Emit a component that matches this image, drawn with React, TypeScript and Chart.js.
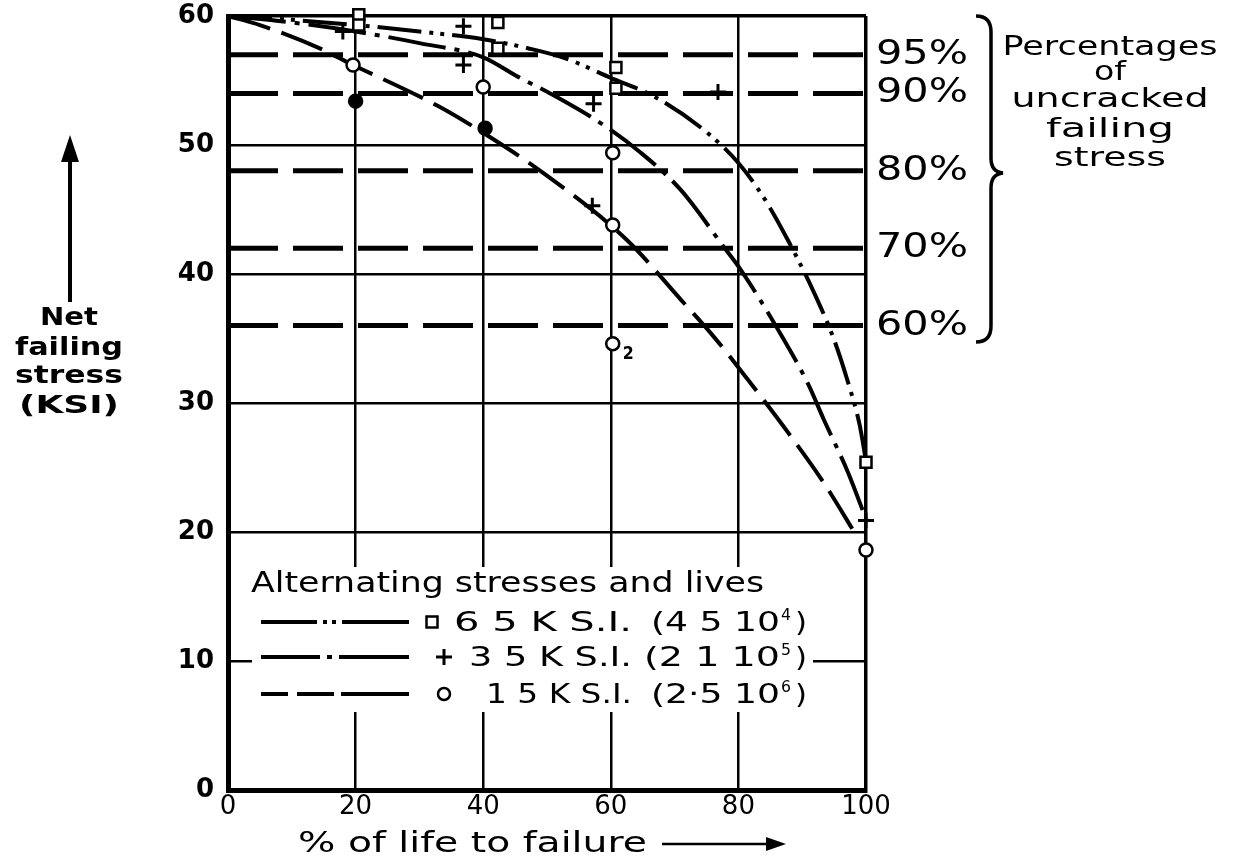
import React, { useEffect, useRef } from "react";
import { Chart, registerables } from "chart.js";

Chart.register(...registerables);

const FONT = '"DejaVu Sans", sans-serif';

// Axis ticks
const X_TICKS = [0, 20, 40, 60, 80, 100];
const Y_TICKS = [0, 10, 20, 30, 40, 50, 60];

// Fitted curves: % of life to failure (x) against net failing stress in KSI (y)
const CURVE_65_X = [0, 10, 20, 30, 40, 47, 53, 60, 67, 75, 80, 84, 88, 92, 95, 97, 99, 100];
const CURVE_65_Y = [60, 59.7, 59.3, 58.8, 58.2, 57.5, 56.7, 55.2, 53.7, 51.0, 48.6, 45.9, 42.4, 38.4, 34.9, 31.9, 28.3, 25.5];

const CURVE_35_X = [0, 10, 20, 30, 40, 45.4, 50.5, 58.4, 64.7, 71, 77.7, 80.4, 86.2, 90.9, 93.4, 97.2, 100];
const CURVE_35_Y = [60, 59.5, 58.8, 57.9, 56.8, 55.3, 54.0, 51.7, 49.4, 46.5, 42.1, 40.3, 35.7, 31.5, 28.7, 24.6, 21.0];

const CURVE_15_X = [0, 5, 14.8, 18.8, 33, 41.1, 49.5, 62.6, 71, 75.7, 81.5, 87.8, 93.4, 98.4];
const CURVE_15_Y = [60, 59.3, 57.4, 56.4, 53.0, 50.6, 47.8, 42.6, 38.0, 35.4, 31.8, 27.7, 23.8, 19.8];

// Test results for each alternating stress
const TEST_65_X = [20.5, 20.5, 42.3, 42.3, 60.8, 60.8, 100];
const TEST_65_Y = [60.1, 59.3, 59.5, 57.5, 56.0, 54.4, 25.4];

const TEST_35_X = [18, 36.9, 36.9, 57.3, 57.1, 76.8, 100];
const TEST_35_Y = [58.8, 59.2, 56.2, 53.2, 45.3, 54.1, 20.9];

const TEST_15_X = [19.6, 20, 40, 40.3, 60.3, 60.3, 60.3, 100];
const TEST_15_Y = [56.2, 53.4, 54.5, 51.3, 49.4, 43.8, 34.6, 18.6];
const TEST_15_FILLED = [false, true, false, true, false, false, false, false];
const TEST_15_COUNT = ["", "", "", "", "", "", "2", ""];

// Residual strength levels as a percentage of the uncracked failing stress
const UNCRACKED_STRESS = 60;
const PERCENT_LEVELS = [95, 90, 80, 70, 60];

// Text
const LEGEND_TITLE = "Alternating stresses and lives";
const LEGEND_STRESS = ["6 5 K S.I.", "3 5 K S.I.", "1 5 K S.I."];
const LEGEND_LIFE = ["4 5", "2 1", "2\u00b75"];
const LEGEND_LIFE_EXP = ["4", "5", "6"];
const PERCENT_NOTE = ["Percentages", "of", "uncracked", "failing", "stress"];
const Y_TITLE = ["Net", "failing", "stress", "(KSI)"];
const X_TITLE = "% of life to failure";

// Line patterns on the plot
const DASH_65 = [44, 8, 4, 7, 4, 8];
const DASH_35 = [58, 9, 5, 9];
const DASH_15 = [44, 12];
const DASH_LEVEL = [50, 15];

// Line patterns in the key samples
const KEY_DASH = [
  [56, 6, 4, 5, 4, 6, 80],
  [59, 7, 5, 7, 80],
  [27, 9, 37, 7, 80],
];

const pts = (xs: number[], ys: number[]) => xs.map((x, i) => ({ x, y: ys[i] }));

type Align = "left" | "center" | "right";

// Draws text stretched horizontally to a given width.
function fitText(
  ctx: CanvasRenderingContext2D,
  s: string,
  x: number,
  y: number,
  font: string,
  width: number,
  align: Align = "left",
  baseline: CanvasTextBaseline = "alphabetic"
) {
  ctx.save();
  ctx.font = font;
  ctx.fillStyle = "#000";
  ctx.textBaseline = baseline;
  ctx.textAlign = "left";
  const w = ctx.measureText(s).width;
  const left = align === "left" ? x : align === "center" ? x - width / 2 : x - width;
  ctx.translate(left, y);
  ctx.scale(width / w, 1);
  ctx.fillText(s, 0, 0);
  ctx.restore();
}

function drawMarker(ctx: CanvasRenderingContext2D, style: string, x: number, y: number) {
  ctx.save();
  ctx.strokeStyle = "#000";
  ctx.fillStyle = "#fff";
  ctx.setLineDash([]);
  if (style === "rect") {
    ctx.lineWidth = 2.5;
    ctx.fillRect(x - 5.5, y - 5.5, 11, 11);
    ctx.strokeRect(x - 5.5, y - 5.5, 11, 11);
  } else if (style === "cross") {
    ctx.lineWidth = 3;
    ctx.beginPath();
    ctx.moveTo(x - 8, y);
    ctx.lineTo(x + 8, y);
    ctx.moveTo(x, y - 8);
    ctx.lineTo(x, y + 8);
    ctx.stroke();
  } else {
    ctx.lineWidth = 2.5;
    ctx.beginPath();
    ctx.arc(x, y, 6, 0, Math.PI * 2);
    ctx.fill();
    ctx.stroke();
  }
  ctx.restore();
}

const LEGEND_ROWS = [
  { style: "rect", y: 622, markerX: 432, stressX: 454, lifeX: 651 },
  { style: "cross", y: 657, markerX: 444, stressX: 469, lifeX: 644 },
  { style: "circle", y: 694, markerX: 444, stressX: 486, lifeX: 651 },
];

const annotations = {
  id: "annotations",
  beforeDatasetsDraw(chart: any) {
    const ctx: CanvasRenderingContext2D = chart.ctx;
    // blank panel for the key, laid over the grid
    ctx.save();
    ctx.fillStyle = "#fff";
    ctx.fillRect(252, 567, 561, 145);
    ctx.restore();
  },
  afterDraw(chart: any) {
    const ctx: CanvasRenderingContext2D = chart.ctx;
    const xs = chart.scales.x;
    const ys = chart.scales.y;

    // key
    fitText(ctx, LEGEND_TITLE, 251, 592, `28px ${FONT}`, 513);
    LEGEND_ROWS.forEach((row, i) => {
      ctx.save();
      ctx.strokeStyle = "#000";
      ctx.lineWidth = 4;
      ctx.setLineDash(KEY_DASH[i]);
      ctx.beginPath();
      ctx.moveTo(261, row.y);
      ctx.lineTo(409, row.y);
      ctx.stroke();
      ctx.restore();
      drawMarker(ctx, row.style, row.markerX, row.y);
      fitText(ctx, LEGEND_STRESS[i], row.stressX, row.y + 9, `26px ${FONT}`, 632 - row.stressX);
      // life in cycles: (mantissa 10^exp)
      const open = row.lifeX;
      fitText(ctx, `(${LEGEND_LIFE[i]} 10`, open, row.y + 9, `26px ${FONT}`, 780 - open);
      fitText(ctx, LEGEND_LIFE_EXP[i], 781, row.y - 2, `16px ${FONT}`, 10);
      fitText(ctx, ")", 795, row.y + 9, `26px ${FONT}`, 12);
    });

    // number of coincident results
    TEST_15_COUNT.forEach((c, i) => {
      if (!c) return;
      const px = xs.getPixelForValue(TEST_15_X[i]);
      const py = ys.getPixelForValue(TEST_15_Y[i]);
      fitText(ctx, c, px + 10, py + 11, `bold 17px ${FONT}`, 11, "left", "middle");
    });

    // percentage labels at the right of the residual strength lines
    PERCENT_LEVELS.forEach((p) => {
      const py = ys.getPixelForValue((UNCRACKED_STRESS * p) / 100);
      fitText(ctx, `${p}%`, 876, py + 9, `33px ${FONT}`, 92);
    });

    // brace
    ctx.save();
    ctx.strokeStyle = "#000";
    ctx.lineWidth = 3.5;
    ctx.setLineDash([]);
    ctx.beginPath();
    ctx.moveTo(976, 16);
    ctx.quadraticCurveTo(991, 16, 991, 32);
    ctx.lineTo(991, 158);
    ctx.quadraticCurveTo(991, 172, 1003, 173);
    ctx.quadraticCurveTo(991, 174, 991, 188);
    ctx.lineTo(991, 326);
    ctx.quadraticCurveTo(991, 342, 976, 342);
    ctx.stroke();
    ctx.restore();

    const noteY = [55, 80, 107, 137, 166];
    const noteW = [215, 32, 197, 128, 112];
    PERCENT_NOTE.forEach((s, i) => {
      fitText(ctx, s, 1110, noteY[i], `26px ${FONT}`, noteW[i], "center");
    });

    // y title with arrow
    ctx.save();
    ctx.strokeStyle = "#000";
    ctx.fillStyle = "#000";
    ctx.lineWidth = 4;
    ctx.beginPath();
    ctx.moveTo(70, 302);
    ctx.lineTo(70, 158);
    ctx.stroke();
    ctx.beginPath();
    ctx.moveTo(61, 162);
    ctx.lineTo(79, 162);
    ctx.lineTo(70, 135);
    ctx.closePath();
    ctx.fill();
    ctx.restore();
    const yTitleY = [319, 349, 377, 407];
    const yTitleW = [58, 108, 108, 100];
    Y_TITLE.forEach((s, i) => {
      fitText(ctx, s, 69, yTitleY[i], `bold 24px ${FONT}`, yTitleW[i], "center", "middle");
    });

    // x title with arrow
    fitText(ctx, X_TITLE, 298, 852, `29px ${FONT}`, 349);
    ctx.save();
    ctx.strokeStyle = "#000";
    ctx.fillStyle = "#000";
    ctx.lineWidth = 2.5;
    ctx.beginPath();
    ctx.moveTo(662, 844);
    ctx.lineTo(770, 844);
    ctx.stroke();
    ctx.beginPath();
    ctx.moveTo(766, 837);
    ctx.lineTo(786, 844);
    ctx.lineTo(766, 851);
    ctx.closePath();
    ctx.fill();
    ctx.restore();
  },
};

function curveSet(label: string, xs: number[], ys: number[], dash: number[]) {
  return {
    type: "line",
    label,
    data: pts(xs, ys),
    borderColor: "#000",
    borderWidth: 4,
    borderDash: dash,
    cubicInterpolationMode: "monotone",
    pointRadius: 0,
    clip: false,
    order: 4,
  };
}

function testSet(label: string, xs: number[], ys: number[], style: string, radius: number, fill: any) {
  return {
    type: "line",
    label,
    data: pts(xs, ys),
    showLine: false,
    pointStyle: style,
    pointRadius: radius,
    pointBorderWidth: style === "cross" ? 3 : 2.5,
    pointBorderColor: "#000",
    pointBackgroundColor: fill,
    clip: false,
    order: 1,
  };
}

export default function App() {
  const ref = useRef<HTMLCanvasElement>(null);

  useEffect(() => {
    const canvas = ref.current;
    if (!canvas) return;

    const levelSets = PERCENT_LEVELS.map((p) => ({
      type: "line",
      label: `${p}%`,
      data: [
        { x: X_TICKS[0], y: (UNCRACKED_STRESS * p) / 100 },
        { x: X_TICKS[X_TICKS.length - 1], y: (UNCRACKED_STRESS * p) / 100 },
      ],
      borderColor: "#000",
      borderWidth: 5,
      borderDash: DASH_LEVEL,
      pointRadius: 0,
      clip: false,
      order: 6,
    }));

    const chart = new Chart(canvas, {
      type: "line",
      data: {
        datasets: [
          testSet("6 5 K S.I.", TEST_65_X, TEST_65_Y, "rect", 7.8, "#fff"),
          testSet("3 5 K S.I.", TEST_35_X, TEST_35_Y, "cross", 8, "#fff"),
          testSet(
            "1 5 K S.I.",
            TEST_15_X,
            TEST_15_Y,
            "circle",
            6.5,
            TEST_15_FILLED.map((f) => (f ? "#000" : "#fff"))
          ),
          curveSet("6 5 K S.I. curve", CURVE_65_X, CURVE_65_Y, DASH_65),
          curveSet("3 5 K S.I. curve", CURVE_35_X, CURVE_35_Y, DASH_35),
          curveSet("1 5 K S.I. curve", CURVE_15_X, CURVE_15_Y, DASH_15),
          ...levelSets,
        ] as any,
      },
      options: {
        animation: false,
        responsive: true,
        maintainAspectRatio: false,
        layout: { padding: { left: 0, top: 16, right: 377, bottom: 0 } },
        plugins: { legend: { display: false }, tooltip: { enabled: false } },
        scales: {
          x: {
            type: "linear",
            min: X_TICKS[0],
            max: X_TICKS[X_TICKS.length - 1],
            afterBuildTicks: (s: any) => {
              s.ticks = X_TICKS.map((v) => ({ value: v }));
            },
            afterFit: (s: any) => {
              s.height = 69;
              s.paddingLeft = 0;
              s.paddingRight = 0;
            },
            grid: {
              color: "#000",
              lineWidth: (c: any) => (c.tick && (c.tick.value === 0 || c.tick.value === 100) ? 3.5 : 2.5),
              drawTicks: false,
            },
            border: { color: "#000", width: 5 },
            ticks: {
              color: "#000",
              font: { family: FONT, size: 26 },
              padding: 2,
              maxRotation: 0,
              autoSkip: false,
            },
          },
          y: {
            type: "linear",
            min: Y_TICKS[0],
            max: Y_TICKS[Y_TICKS.length - 1],
            afterBuildTicks: (s: any) => {
              s.ticks = Y_TICKS.map((v) => ({ value: v }));
            },
            afterFit: (s: any) => {
              s.width = 228;
              s.paddingTop = 0;
              s.paddingBottom = 0;
            },
            grid: {
              color: "#000",
              lineWidth: (c: any) => (c.tick && (c.tick.value === 0 || c.tick.value === 60) ? 3.5 : 2.5),
              drawTicks: false,
            },
            border: { color: "#000", width: 5 },
            ticks: {
              color: "#000",
              font: { family: FONT, size: 26, weight: "bold" },
              padding: 14,
              autoSkip: false,
            },
          },
        },
      } as any,
      plugins: [annotations],
    });

    return () => chart.destroy();
  }, []);

  return (
    <div style={{ position: "absolute", left: 0, top: 0, width: 1243, height: 859, background: "#fff" }}>
      <canvas ref={ref} />
    </div>
  );
}
